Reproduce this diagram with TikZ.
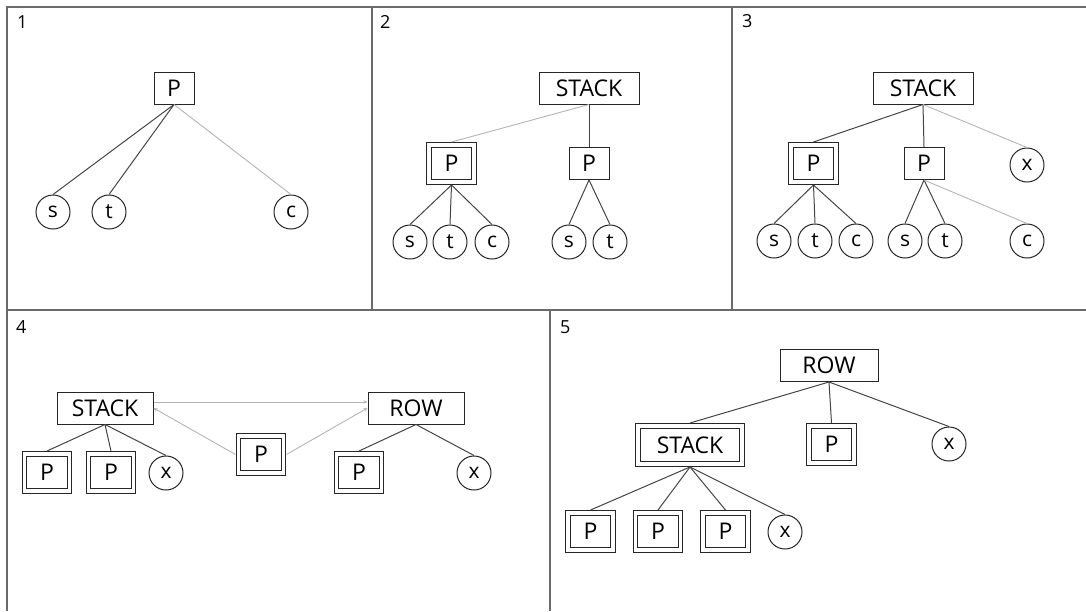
\documentclass[tikz,border=0pt]{standalone}
\usepackage{fontspec}
\setmainfont{Open Sans}
\usetikzlibrary{arrows.meta}
\definecolor{framec}{HTML}{6A6A6A}
\definecolor{darkc}{HTML}{444444}
\definecolor{lightc}{HTML}{B4B4B4}
\tikzset{
  box/.style={draw=black!85, line width=1pt, fill=white, inner sep=0pt, minimum width=40pt, minimum height=32pt, font=\fontsize{23}{25}\selectfont},
  wbox/.style={box, minimum width=#1},
  dbox/.style={box, double=white, double distance=3.5pt, line width=1pt, minimum width=45pt, minimum height=37pt, outer sep=3pt},
  leaf/.style={draw=black!85, line width=1pt, fill=white, circle, inner sep=0pt, minimum size=34pt, font=\fontsize{21}{22}\selectfont},
  dk/.style={draw=darkc, line width=1pt},
  lt/.style={draw=lightc, line width=0.9pt},
  ltarr/.style={lt, -{Stealth[length=4pt,width=3.5pt]}},
  frame/.style={draw=framec, line width=1.2pt},
  plabel/.style={anchor=north west, inner sep=0pt, font=\fontsize{18}{19}\selectfont}
}
\begin{document}
\begin{tikzpicture}[x=1pt,y=-1pt]
\useasboundingbox (0,0) rectangle (1086,611);
% frame
\draw[frame] (7,611) -- (7,7) -- (1086,7);
\draw[frame] (7,310) -- (1086,310);
\draw[frame] (372,7) -- (372,310);
\draw[frame] (732,7) -- (732,310);
\draw[frame] (550,310) -- (550,611);
% labels
\node[plabel] (l1) at (17,15) {1};
\node[plabel] (l2) at (380,15) {2};
\node[plabel] (l3) at (742,14) {3};
\node[plabel] (l4) at (16,320) {4};
\node[plabel] (l5) at (560,320) {5};

% ---- panel 1
\node[box] (a) at (174,88) {P};
\node[leaf] (as) at (53,212) {s};
\node[leaf] (at) at (109,212) {t};
\node[leaf] (ac) at (291,212) {c};
\draw[dk] (a.south) -- (as.north);
\draw[dk] (a.south) -- (at.north);
\draw[lt] (a.south) -- (ac.north);

% ---- panel 2
\node[wbox=100pt] (b) at (589,88) {STACK};
\node[dbox] (bp1) at (451.5,163.5) {P};
\node[box] (bp2) at (589,163.5) {P};
\node[leaf] (bs1) at (410,242) {s};
\node[leaf] (bt1) at (450,242) {t};
\node[leaf] (bc1) at (492,242) {c};
\node[leaf] (bs2) at (569,242) {s};
\node[leaf] (bt2) at (610,242) {t};
\draw[lt] (b.south) -- (bp1.north);
\draw[dk] (b.south) -- (bp2.north);
\draw[dk] (bp1.south) -- (bs1.north);
\draw[dk] (bp1.south) -- (bt1.north);
\draw[dk] (bp1.south) -- (bc1.north);
\draw[dk] (bp2.south) -- (bs2.north);
\draw[dk] (bp2.south) -- (bt2.north);

% ---- panel 3
\node[wbox=100pt] (c) at (923,88) {STACK};
\node[dbox] (cp1) at (813.5,163.5) {P};
\node[box] (cp2) at (924,163.5) {P};
\node[leaf] (cx) at (1027,165) {x};
\node[leaf] (cs1) at (774,241) {s};
\node[leaf] (ct1) at (815,241) {t};
\node[leaf] (cc1) at (856,241) {c};
\node[leaf] (cs2) at (905,241) {s};
\node[leaf] (ct2) at (945,241) {t};
\node[leaf] (cc2) at (1027,241) {c};
\draw[dk] (c.south) -- (cp1.north);
\draw[dk] (c.south) -- (cp2.north);
\draw[lt] (c.south) -- (cx.north);
\draw[dk] (cp1.south) -- (cs1.north);
\draw[dk] (cp1.south) -- (ct1.north);
\draw[dk] (cp1.south) -- (cc1.north);
\draw[dk] (cp2.south) -- (cs2.north);
\draw[dk] (cp2.south) -- (ct2.north);
\draw[lt] (cp2.south) -- (cc2.north);

% ---- panel 4
\node[wbox=96pt] (d) at (105,408) {STACK};
\node[wbox=96pt] (dr) at (416,408) {ROW};
\node[dbox] (dm) at (261,454.5) {P};
\node[dbox] (dp1) at (47,472.5) {P};
\node[dbox] (dp2) at (111,472.5) {P};
\node[leaf] (dx1) at (166,473) {x};
\node[dbox] (dp3) at (359,472.5) {P};
\node[leaf] (dx2) at (474,473) {x};
\draw[dk] (d.south) -- (dp1.north);
\draw[dk] (d.south) -- (dp2.north);
\draw[dk] (d.south) -- (dx1.north);
\draw[dk] (dr.south) -- (dp3.north);
\draw[dk] (dr.south) -- (dx2.north);
\draw[ltarr] ([yshift=6pt]d.east) -- ([yshift=6pt]dr.west);
\draw[ltarr] (dm.west) -- (d.east);
\draw[ltarr] (dm.east) -- (dr.west);

% ---- panel 5
\node[wbox=98pt] (e) at (829,365.5) {ROW};
\node[dbox, minimum width=104pt, minimum height=38pt] (es) at (690,445) {STACK};
\node[dbox] (ep) at (831.5,444.5) {P};
\node[leaf] (ex) at (949,444) {x};
\node[dbox] (ep1) at (590.5,531.5) {P};
\node[dbox] (ep2) at (658,531.5) {P};
\node[dbox] (ep3) at (725.5,531.5) {P};
\node[leaf] (ex2) at (785,532) {x};
\draw[dk] (e.south) -- (es.north);
\draw[dk] (e.south) -- (ep.north);
\draw[dk] (e.south) -- (ex.north);
\draw[dk] (es.south) -- (ep1.north);
\draw[dk] (es.south) -- (ep2.north);
\draw[dk] (es.south) -- (ep3.north);
\draw[dk] (es.south) -- (ex2.north);
\end{tikzpicture}
\end{document}
